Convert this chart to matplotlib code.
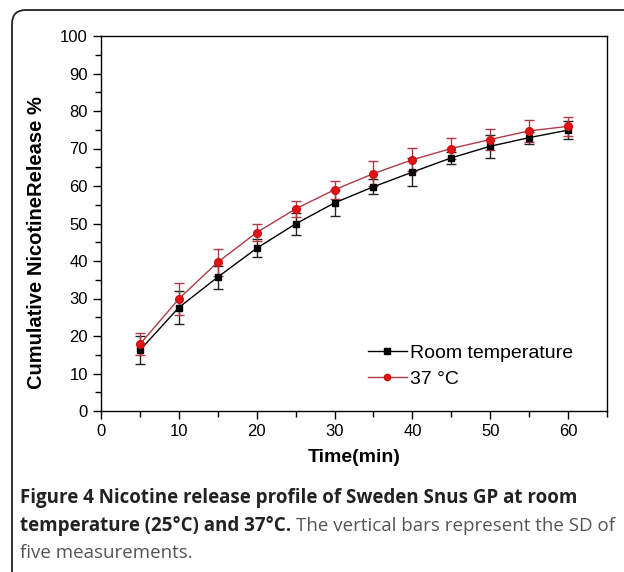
import matplotlib
matplotlib.use('Agg')

import matplotlib.pyplot as plt
from matplotlib.lines import Line2D
from matplotlib.patches import FancyBboxPatch
from matplotlib.ticker import MultipleLocator

# data
time_min = [5, 10, 15, 20, 25, 30, 35, 40, 45, 50, 55, 60]
room_mean = [16.2, 27.6, 35.7, 43.4, 49.9, 55.5, 59.8, 63.7, 67.5, 70.6, 72.9, 74.9]
room_sd = [3.7, 4.4, 3.1, 2.4, 2.9, 3.4, 2.0, 3.7, 1.7, 3.0, 1.6, 2.4]
body_mean = [17.8, 29.9, 39.7, 47.6, 53.9, 59.0, 63.3, 67.0, 70.0, 72.4, 74.7, 75.9]
body_sd = [2.9, 4.3, 3.6, 2.3, 2.2, 2.4, 3.4, 3.1, 2.7, 2.7, 3.0, 2.5]

W, H = 624, 572
fig = plt.figure(figsize=(W / 100, H / 100), dpi=100)
fig.patch.set_facecolor('white')

# rounded frame around the figure
frame = FancyBboxPatch((12, -40), W + 40, H + 40 - 10,
                       boxstyle='round,pad=0,rounding_size=14',
                       transform=None, facecolor='none', edgecolor='#222222',
                       linewidth=1.3, clip_on=False)
fig.patches.append(frame)

ax = fig.add_axes([101 / W, 1 - 411 / H, (607 - 101) / W, (411 - 36) / H])

font = ['Liberation Sans', 'DejaVu Sans']
red_line = '#b03a48'
red_mark = '#e01414'

ax.errorbar(time_min, room_mean, yerr=room_sd, color='black', marker='s',
            markersize=5, linewidth=1.0, ecolor='#222222', elinewidth=1.0,
            capsize=3.5, capthick=1.0)
ax.errorbar(time_min, body_mean, yerr=body_sd, color=red_line, marker='o',
            markersize=5.5, markerfacecolor=red_mark, markeredgecolor='#d01010',
            linewidth=1.0, ecolor=red_line, elinewidth=1.0,
            capsize=3.5, capthick=1.0)

ax.set_xlim(0, 65)
ax.set_ylim(0, 100)
ax.xaxis.set_major_locator(MultipleLocator(10))
ax.xaxis.set_minor_locator(MultipleLocator(5))
ax.yaxis.set_major_locator(MultipleLocator(10))
ax.yaxis.set_minor_locator(MultipleLocator(5))
ax.tick_params(which='both', direction='out', top=False, right=False, width=1.0)
ax.tick_params(which='major', length=6)
ax.tick_params(which='minor', length=4)
for lab in ax.get_xticklabels() + ax.get_yticklabels():
    lab.set_family(font)
    lab.set_fontsize(12)
for sp in ax.spines.values():
    sp.set_linewidth(1.0)

ax.set_xlabel('Time(min)', family=font, fontsize=14, fontweight='bold', labelpad=7)
ax.set_ylabel('Cumulative NicotineRelease %', family=font, fontsize=14.5,
              fontweight='bold')
ax.yaxis.set_label_coords(-0.108, 0.45)

# legend handles without the error bars
handles = [
    Line2D([], [], color='black', marker='s', markersize=4, linewidth=1.0),
    Line2D([], [], color=red_line, marker='o', markersize=4.5,
           markerfacecolor=red_mark, markeredgecolor='#d01010', linewidth=1.0),
]
ax.legend(handles, ['Room temperature', '37 °C'], loc='lower right',
          bbox_to_anchor=(0.967, 0.015), frameon=False,
          prop={'family': font, 'size': 14}, handlelength=2.0,
          handletextpad=0.15, labelspacing=0.45)

# caption, bold lead followed by regular text
cap_font = ['Open Sans', 'DejaVu Sans']
cap_size = 13.5
fig.text(20 / W, 1 - 498 / H, 'Figure 4 Nicotine release profile of Sweden Snus GP at room',
         family=cap_font, fontsize=cap_size, fontweight='bold', color='#222222',
         va='center')
bold2 = fig.text(20 / W, 1 - 526 / H, 'temperature (25°C) and 37°C.',
                 family=cap_font, fontsize=cap_size, fontweight='bold',
                 color='#222222', va='center')
fig.canvas.draw()
bb = bold2.get_window_extent(fig.canvas.get_renderer())
fig.text((bb.x1 + 5) / W, 1 - 526 / H, 'The vertical bars represent the SD of',
         family=cap_font, fontsize=cap_size, color='#555555', va='center')
fig.text(20 / W, 1 - 553 / H, 'five measurements.',
         family=cap_font, fontsize=cap_size, color='#555555', va='center')

fig.savefig('out.png', dpi=100, facecolor='white')
plt.close(fig)
